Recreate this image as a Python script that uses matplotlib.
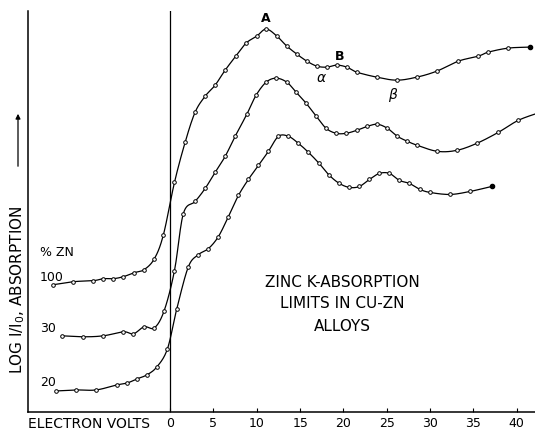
import numpy as np
import matplotlib.pyplot as plt

# energia relativa ao limite K (eV) e absorcao (unidades arbitrarias)
ev_100 = [-13.47, -11.16, -8.85, -7.70, -6.54, -5.39, -4.12, -3.00, -1.81, -0.77,
          0.50, 1.73, 2.88, 4.04, 5.19, 6.35, 7.58, 8.77, 10.00, 11.08,
          12.31, 13.46, 14.62, 15.77, 16.93, 18.08, 19.23, 20.39, 21.54, 23.85,
          26.16, 28.46, 30.77, 33.26, 35.57, 36.73, 39.03, 41.54]
abs_100 = [1.27, 1.30, 1.31, 1.33, 1.33, 1.35, 1.39, 1.42, 1.53, 1.77,
           2.29, 2.69, 2.99, 3.15, 3.26, 3.41, 3.55, 3.68, 3.75, 3.82,
           3.75, 3.65, 3.57, 3.50, 3.45, 3.44, 3.46, 3.44, 3.39, 3.34,
           3.31, 3.34, 3.40, 3.50, 3.55, 3.59, 3.63, 3.64]

ev_30 = [-12.50, -10.07, -7.70, -5.39, -4.23, -3.00, -1.81, -0.69, 0.50, 1.53,
         2.88, 4.04, 5.19, 6.35, 7.50, 8.85, 9.92, 11.08, 12.23, 13.46,
         14.54, 15.69, 16.85, 18.00, 19.15, 20.31, 21.54, 22.76, 23.92, 25.07,
         26.23, 27.38, 28.53, 30.84, 33.08, 35.39, 37.88, 40.19, 42.69]
abs_30 = [0.76, 0.75, 0.76, 0.80, 0.78, 0.85, 0.84, 1.01, 1.41, 1.98,
          2.10, 2.23, 2.39, 2.55, 2.75, 2.97, 3.16, 3.29, 3.33, 3.29,
          3.19, 3.08, 2.95, 2.83, 2.78, 2.78, 2.81, 2.85, 2.87, 2.83,
          2.75, 2.70, 2.66, 2.60, 2.61, 2.68, 2.79, 2.91, 2.99]

ev_20 = [-13.15, -10.85, -8.54, -6.15, -4.93, -3.84, -2.69, -1.53, -0.31, 0.77,
         2.11, 3.27, 4.42, 5.57, 6.73, 7.88, 9.03, 10.19, 11.34, 12.50,
         13.65, 14.80, 15.96, 17.19, 18.38, 19.53, 20.69, 21.84, 23.00, 24.15,
         25.30, 26.46, 27.61, 28.85, 30.00, 32.31, 34.61, 37.12]
abs_20 = [0.21, 0.22, 0.22, 0.27, 0.29, 0.33, 0.37, 0.45, 0.63, 1.03,
          1.45, 1.57, 1.63, 1.75, 1.95, 2.16, 2.32, 2.46, 2.60, 2.75,
          2.75, 2.68, 2.59, 2.48, 2.36, 2.28, 2.24, 2.25, 2.32, 2.38,
          2.38, 2.31, 2.28, 2.22, 2.19, 2.17, 2.20, 2.25]

xticks = [0, 5, 10, 15, 20, 25, 30, 35, 40]


# Curva suave (Catmull-Rom) passando pelos pontos medidos
def suavizar(x, y, n=12):
    p = np.column_stack([x, y])
    p = np.vstack([2 * p[0] - p[1], p, 2 * p[-1] - p[-2]])
    t = np.linspace(0, 1, n, endpoint=False)[:, None]
    out = []
    for i in range(1, len(p) - 2):
        p0, p1, p2, p3 = p[i - 1], p[i], p[i + 1], p[i + 2]
        out.append(0.5 * (2 * p1 + (-p0 + p2) * t + (2 * p0 - 5 * p1 + 4 * p2 - p3) * t ** 2
                          + (-p0 + 3 * p1 - 3 * p2 + p3) * t ** 3))
    out.append(p[-2][None, :])
    out = np.vstack(out)
    return out[:, 0], out[:, 1]


fig = plt.figure(figsize=(5.35, 4.31), dpi=100)
ax = fig.add_axes([28 / 535, 18 / 431, 507 / 535, 401 / 431])

for xs, ys in [(ev_100, abs_100), (ev_30, abs_30), (ev_20, abs_20)]:
    sx, sy = suavizar(xs, ys)
    ax.plot(sx, sy, color='black', lw=0.9)
    ax.plot(xs, ys, 'o', ms=2.6, mfc='white', mec='black', mew=0.7)

# pontos finais cheios
ax.plot(ev_100[-1], abs_100[-1], 'o', ms=3, color='black')
ax.plot(ev_20[-1], abs_20[-1], 'o', ms=3, color='black')

ax.axvline(0, color='black', lw=0.9)

ax.set_xlim(-16.4, 42.1)
ax.set_ylim(0, 4.0)
ax.set_xticks(xticks)
ax.set_xticklabels([str(v) for v in xticks], fontsize=9)
ax.set_yticks([])
ax.tick_params(axis='x', direction='in', length=3, pad=3)
ax.spines['top'].set_visible(False)
ax.spines['right'].set_visible(False)
ax.spines['left'].set_linewidth(1.1)
ax.spines['bottom'].set_linewidth(1.1)

# rotulos dos picos
ax.text(11.08, 3.94, 'A', fontsize=9, fontweight='bold', ha='center', va='center')
ax.text(19.5, 3.56, 'B', fontsize=9, fontweight='bold', ha='center', va='center')
ax.text(17.5, 3.34, r'$\alpha$', fontsize=10, ha='center', va='center')
ax.text(25.7, 3.17, r'$\beta$', fontsize=10, ha='center', va='center')

# legenda das ligas
ax.text(-15.0, 1.60, '% ZN', fontsize=9, ha='left', va='center')
ax.text(-15.0, 1.35, '100', fontsize=9, ha='left', va='center')
ax.text(-15.0, 0.84, '30', fontsize=9, ha='left', va='center')
ax.text(-15.0, 0.30, '20', fontsize=9, ha='left', va='center')

ax.text(19.85, 1.30, 'ZINC K-ABSORPTION', fontsize=11, ha='center', va='center')
ax.text(19.85, 1.09, 'LIMITS IN CU-ZN', fontsize=11, ha='center', va='center')
ax.text(19.85, 0.86, 'ALLOYS', fontsize=11, ha='center', va='center')

fig.text(28 / 535, 7 / 431, 'ELECTRON VOLTS', fontsize=10, ha='left', va='center')
fig.text(18 / 535, 1 - 290 / 431, 'LOG I/I$_0$, ABSORPTION', fontsize=11,
         rotation=90, ha='center', va='center')
fig.add_artist(plt.Annotation('', xy=(18 / 535, 1 - 112 / 431), xycoords='figure fraction',
                              xytext=(18 / 535, 1 - 170 / 431), textcoords='figure fraction',
                              arrowprops=dict(arrowstyle='-|>', lw=0.9, color='black',
                                              mutation_scale=7)))

fig.savefig('out.png', dpi=100)
